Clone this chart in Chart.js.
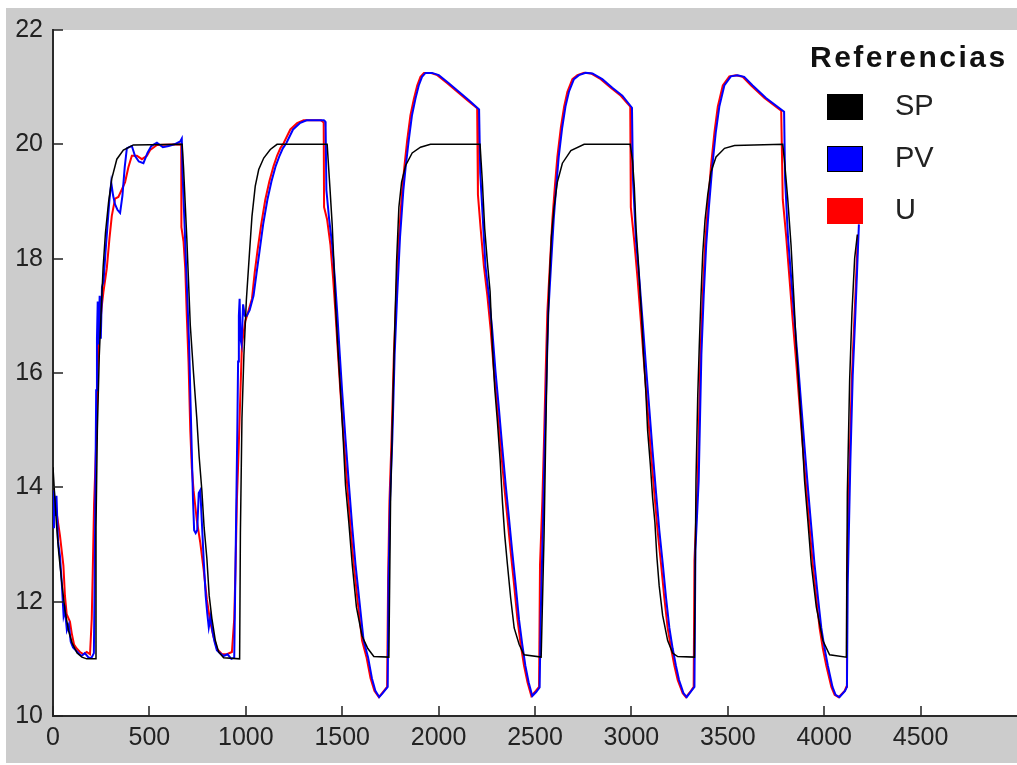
<!DOCTYPE html>
<html>
<head>
<meta charset="utf-8">
<title>Referencias</title>
<script src="https://cdn.jsdelivr.net/npm/chart.js@4.4.1/dist/chart.umd.min.js"></script>
<style>
  html, body { margin: 0; padding: 0; background: #fff; }
  #chart { display: block; }
</style>
</head>
<body>
<canvas id="chart" width="1017" height="765"></canvas>
<script>
// axis ticks
const xTicks = [0, 500, 1000, 1500, 2000, 2500, 3000, 3500, 4000, 4500];
const yTicks = [10, 12, 14, 16, 18, 20, 22];
const legendTitle = 'Referencias';

// SP: set point, [t, value]
const spData = [
  [0, 14.35], [8, 13.9], [18, 13.35], [30, 12.85], [45, 12.35], [62, 11.85], [80, 11.5], [100, 11.27], [125, 11.1], [150, 11.03], [175, 11.0], [218, 11.0],
  [223, 13.3], [230, 15.0], [240, 16.3], [250, 17.1], [260, 17.85], [272, 18.45], [288, 18.98], [305, 19.4], [331, 19.74], [365, 19.9], [417, 19.99], [670, 20.0],
  [677, 19.6], [694, 18.36], [712, 16.84], [729, 15.99], [746, 15.2], [758, 14.54], [772, 13.95], [784, 13.29], [798, 12.76], [810, 12.11], [824, 11.71], [842, 11.32], [859, 11.12], [885, 11.02], [968, 11.0],
  [972, 13.2], [980, 15.2], [990, 16.3], [1003, 17.28], [1020, 18.15], [1032, 18.74], [1049, 19.27], [1067, 19.56], [1093, 19.76], [1127, 19.91], [1162, 20.0], [1422, 20.0],
  [1436, 19.26], [1448, 18.6], [1456, 18.0], [1465, 17.2], [1477, 16.47], [1491, 15.7], [1505, 14.85], [1517, 14.04], [1534, 13.4], [1552, 12.65], [1574, 11.9], [1603, 11.4], [1633, 11.18], [1664, 11.04], [1742, 11.03],
  [1751, 13.82], [1768, 16.18], [1782, 17.94], [1794, 18.9], [1808, 19.34], [1829, 19.63], [1863, 19.85], [1906, 19.95], [1958, 20.0], [2215, 20.0],
  [2227, 19.34], [2239, 18.53], [2253, 17.94], [2267, 17.43], [2279, 16.47], [2291, 15.74], [2305, 15.15], [2319, 14.49], [2331, 13.75], [2343, 13.16], [2357, 12.65], [2374, 12.06], [2392, 11.54], [2418, 11.25], [2443, 11.07], [2532, 11.03],
  [2547, 13.16], [2555, 14.78], [2564, 16.47], [2573, 17.5], [2585, 18.38], [2599, 18.9], [2616, 19.34], [2642, 19.67], [2686, 19.89], [2755, 20.0], [2994, 20.0],
  [3006, 19.71], [3015, 19.26], [3024, 18.53], [3036, 17.94], [3046, 17.35], [3053, 16.99], [3063, 16.32], [3075, 15.66], [3084, 15.0], [3098, 14.41], [3110, 13.82], [3122, 13.38], [3132, 12.79], [3144, 12.28], [3162, 11.76], [3188, 11.32], [3214, 11.1], [3240, 11.04], [3327, 11.03],
  [3335, 14.12], [3344, 15.59], [3352, 16.47], [3361, 17.35], [3370, 18.09], [3382, 18.68], [3396, 19.12], [3413, 19.52], [3439, 19.78], [3483, 19.93], [3535, 19.98], [3785, 20.0],
  [3794, 19.71], [3811, 19.04], [3828, 18.24], [3842, 17.35], [3855, 16.47], [3872, 15.59], [3886, 14.85], [3898, 14.12], [3916, 13.38], [3933, 12.65], [3959, 11.91], [3993, 11.32], [4028, 11.07], [4115, 11.03],
  [4120, 13.9], [4132, 15.88], [4144, 17.06], [4158, 18.01], [4172, 18.42]
];

// PV: process variable
const pvData = [
  [0, 13.3], [5, 13.95], [12, 13.5], [18, 13.85], [26, 13.05], [36, 12.8], [46, 12.3], [55, 11.75], [62, 11.85], [72, 11.5], [82, 11.6], [92, 11.3], [104, 11.2], [118, 11.15], [132, 11.1], [148, 11.05], [165, 11.1], [185, 11.02], [200, 11.02], [212, 11.1],
  [216, 12.3], [220, 14.0], [224, 15.7], [228, 16.6], [232, 17.25], [237, 16.5], [242, 17.35], [248, 16.6], [254, 17.5], [262, 17.6], [272, 18.1], [282, 18.55], [292, 19.0], [302, 19.33], [312, 19.1], [322, 18.95], [335, 18.85], [348, 18.8], [360, 19.1], [372, 19.6], [383, 19.93], [395, 19.95], [409, 19.97], [425, 19.8], [445, 19.7], [469, 19.67], [490, 19.85], [510, 19.97], [539, 20.03], [570, 19.95], [600, 19.97], [630, 20.0], [660, 20.05], [668, 20.1],
  [672, 19.5], [680, 18.8], [690, 17.9], [698, 17.2], [706, 16.5], [714, 15.4], [720, 14.6], [726, 13.8], [732, 13.25], [740, 13.2], [748, 13.25], [756, 13.9], [764, 13.95], [772, 13.4], [782, 12.7], [792, 12.1], [800, 11.8], [808, 11.55], [818, 11.75], [826, 11.5], [838, 11.3], [850, 11.15], [866, 11.1], [885, 11.05], [905, 11.08], [925, 11.0], [940, 11.02],
  [944, 12.0], [950, 13.5], [956, 15.0], [960, 16.2], [964, 17.0], [968, 17.3], [972, 16.6], [978, 16.5], [986, 17.2], [995, 17.0], [1005, 17.0], [1020, 17.1], [1040, 17.35], [1056, 17.75], [1072, 18.15], [1090, 18.6], [1112, 19.03], [1133, 19.35], [1155, 19.62], [1175, 19.8], [1192, 19.93], [1210, 20.02], [1245, 20.26], [1280, 20.37], [1315, 20.42], [1405, 20.42], [1412, 20.4],
  [1414, 20.3], [1418, 19.2], [1432, 18.7], [1448, 18.24], [1462, 17.65], [1474, 17.06], [1486, 16.4], [1500, 15.66], [1517, 14.85], [1535, 14.04], [1552, 13.31], [1569, 12.65], [1590, 11.99], [1611, 11.32], [1634, 11.03], [1654, 10.66], [1672, 10.44], [1692, 10.33], [1710, 10.4], [1736, 10.51],
  [1740, 12.35], [1748, 13.75], [1760, 14.85], [1772, 16.32], [1785, 17.35], [1800, 18.38], [1817, 19.19], [1830, 19.63], [1845, 20.07], [1862, 20.51], [1880, 20.8], [1897, 21.03], [1914, 21.18], [1932, 21.25], [1966, 21.25], [2001, 21.21], [2053, 21.07], [2105, 20.92], [2157, 20.77], [2210, 20.61],
  [2216, 19.5], [2226, 18.9], [2243, 17.87], [2261, 17.35], [2278, 16.76], [2295, 16.03], [2313, 15.37], [2330, 14.71], [2348, 14.04], [2365, 13.46], [2382, 12.87], [2400, 12.28], [2417, 11.69], [2434, 11.25], [2450, 10.88], [2467, 10.59], [2486, 10.35], [2506, 10.42], [2524, 10.5],
  [2530, 11.8], [2542, 13.5], [2551, 14.85], [2560, 15.96], [2569, 17.06], [2584, 17.94], [2597, 18.68], [2610, 19.26], [2623, 19.78], [2641, 20.29], [2658, 20.66], [2676, 20.92], [2702, 21.14], [2728, 21.21], [2763, 21.25], [2798, 21.24], [2849, 21.14], [2901, 20.99], [2953, 20.85], [3003, 20.64],
  [3008, 19.4], [3024, 18.3], [3041, 17.65], [3058, 16.91], [3076, 16.1], [3093, 15.37], [3110, 14.63], [3128, 13.9], [3145, 13.24], [3163, 12.65], [3180, 12.06], [3197, 11.54], [3214, 11.18], [3231, 10.88], [3247, 10.63], [3270, 10.4], [3287, 10.33], [3311, 10.44], [3327, 10.51],
  [3332, 12.9], [3349, 14.12], [3363, 16.32], [3375, 17.35], [3388, 18.24], [3402, 18.9], [3420, 19.63], [3438, 20.22], [3456, 20.66], [3482, 21.03], [3516, 21.19], [3551, 21.21], [3585, 21.18], [3629, 21.03], [3698, 20.81], [3792, 20.57],
  [3797, 19.4], [3812, 18.38], [3829, 17.65], [3846, 16.91], [3864, 16.18], [3881, 15.44], [3898, 14.71], [3916, 13.97], [3933, 13.31], [3950, 12.65], [3968, 12.06], [3985, 11.54], [4002, 11.18], [4019, 10.88], [4043, 10.51], [4059, 10.37], [4079, 10.33], [4108, 10.44], [4118, 10.51],
  [4122, 12.3], [4136, 14.49], [4148, 15.96], [4162, 17.06], [4180, 18.6]
];

// U: controller output
const uData = [
  [0, 13.95], [10, 13.75], [19, 13.55], [36, 13.16], [54, 12.63], [62, 12.1], [71, 11.78], [88, 11.65], [97, 11.45], [109, 11.25], [123, 11.18], [140, 11.12], [158, 11.08], [175, 11.12], [192, 11.08],
  [201, 11.7], [206, 12.5], [213, 13.7], [223, 14.67], [230, 15.66], [235, 16.58], [244, 16.84], [253, 17.17], [262, 17.43], [279, 17.83], [293, 18.36], [305, 18.75], [322, 19.05], [339, 19.08], [357, 19.21], [374, 19.34], [391, 19.6], [409, 19.8], [435, 19.8], [461, 19.74], [487, 19.8], [504, 19.9], [539, 19.99], [660, 20.0], [665, 20.0],
  [666, 18.55], [677, 18.3], [686, 17.83], [694, 17.0], [703, 16.18], [712, 15.0], [720, 14.34], [729, 13.95], [746, 13.42], [764, 13.03], [781, 12.57], [798, 12.04], [816, 11.64], [833, 11.38], [850, 11.18], [876, 11.08], [902, 11.08], [928, 11.12],
  [940, 11.7], [947, 12.63], [954, 13.8], [963, 14.67], [972, 15.66], [980, 16.5], [997, 16.9], [1015, 17.1], [1032, 17.3], [1046, 17.75], [1061, 18.15], [1080, 18.6], [1101, 19.03], [1122, 19.35], [1144, 19.62], [1162, 19.8], [1179, 19.93], [1196, 20.02], [1231, 20.26], [1266, 20.37], [1300, 20.42], [1390, 20.42], [1398, 20.4],
  [1404, 20.38], [1406, 18.9], [1422, 18.68], [1439, 18.24], [1453, 17.65], [1465, 17.06], [1477, 16.4], [1491, 15.66], [1508, 14.85], [1526, 14.04], [1543, 13.31], [1560, 12.65], [1581, 11.99], [1603, 11.32], [1626, 11.03], [1647, 10.66], [1667, 10.44], [1690, 10.33], [1707, 10.4], [1733, 10.51],
  [1738, 12.35], [1745, 13.75], [1756, 14.85], [1768, 16.32], [1780, 17.35], [1794, 18.38], [1811, 19.19], [1823, 19.63], [1837, 20.07], [1854, 20.51], [1872, 20.8], [1889, 21.03], [1906, 21.18], [1924, 21.25], [1958, 21.25], [1993, 21.21], [2045, 21.07], [2097, 20.92], [2149, 20.77], [2200, 20.63],
  [2204, 19.12], [2218, 18.53], [2235, 17.87], [2253, 17.35], [2270, 16.76], [2287, 16.03], [2305, 15.37], [2322, 14.71], [2340, 14.04], [2357, 13.46], [2374, 12.87], [2392, 12.28], [2409, 11.69], [2426, 11.25], [2443, 10.88], [2461, 10.59], [2481, 10.35], [2504, 10.44], [2521, 10.51],
  [2526, 12.65], [2538, 13.75], [2547, 14.85], [2555, 15.96], [2564, 17.06], [2578, 17.94], [2590, 18.68], [2603, 19.26], [2616, 19.78], [2634, 20.29], [2651, 20.66], [2668, 20.92], [2694, 21.14], [2720, 21.21], [2755, 21.25], [2790, 21.24], [2841, 21.14], [2893, 20.99], [2945, 20.85], [2994, 20.66],
  [2997, 18.9], [3015, 18.3], [3032, 17.65], [3049, 16.91], [3067, 16.1], [3084, 15.37], [3101, 14.63], [3119, 13.9], [3136, 13.24], [3154, 12.65], [3171, 12.06], [3188, 11.54], [3206, 11.18], [3223, 10.88], [3240, 10.63], [3266, 10.4], [3283, 10.33], [3309, 10.44], [3323, 10.51],
  [3327, 12.72], [3344, 14.12], [3358, 16.32], [3370, 17.35], [3382, 18.24], [3396, 18.9], [3413, 19.63], [3431, 20.22], [3448, 20.66], [3474, 21.03], [3508, 21.19], [3543, 21.21], [3577, 21.18], [3621, 21.03], [3690, 20.81], [3777, 20.59],
  [3785, 19.04], [3803, 18.38], [3820, 17.65], [3837, 16.91], [3855, 16.18], [3872, 15.44], [3889, 14.71], [3907, 13.97], [3924, 13.31], [3941, 12.65], [3959, 12.06], [3976, 11.54], [3993, 11.18], [4011, 10.88], [4037, 10.51], [4054, 10.37], [4075, 10.33], [4106, 10.44], [4115, 10.51],
  [4118, 12.5], [4132, 14.49], [4144, 15.96], [4158, 17.06], [4175, 18.42]
];

const FONT = '"Liberation Sans", Arial, sans-serif';
const toPoints = arr => arr.map(p => ({ x: p[0], y: p[1] }));

// grey figure frame with white plotting area
const figureBackground = {
  id: 'figureBackground',
  beforeDraw(chart) {
    const { ctx, chartArea } = chart;
    ctx.save();
    ctx.fillStyle = '#ffffff';
    ctx.fillRect(0, 0, chart.width, chart.height);
    ctx.fillStyle = '#cccccc';
    ctx.fillRect(6, 8, chart.width - 6, chart.height - 10);
    ctx.fillStyle = '#ffffff';
    ctx.fillRect(chartArea.left, chartArea.top, chartArea.right - chartArea.left, chartArea.bottom - chartArea.top);
    ctx.restore();
  }
};

// tick marks pointing into the plot
const inwardTicks = {
  id: 'inwardTicks',
  afterDraw(chart) {
    const { ctx, chartArea, scales } = chart;
    ctx.save();
    ctx.strokeStyle = '#222';
    ctx.lineWidth = 1.5;
    ctx.beginPath();
    scales.x.ticks.forEach(t => {
      const px = Math.round(scales.x.getPixelForValue(t.value));
      ctx.moveTo(px, chartArea.bottom);
      ctx.lineTo(px, chartArea.bottom - 10);
    });
    scales.y.ticks.forEach(t => {
      const py = Math.round(scales.y.getPixelForValue(t.value));
      ctx.moveTo(chartArea.left, py);
      ctx.lineTo(chartArea.left + 10, py);
    });
    ctx.stroke();
    ctx.restore();
  }
};

// "Referencias" box in the top right corner
const referencesLegend = {
  id: 'referencesLegend',
  afterDraw(chart) {
    const { ctx } = chart;
    ctx.save();
    ctx.fillStyle = '#111';
    ctx.textAlign = 'left';
    ctx.textBaseline = 'alphabetic';
    ctx.font = 'bold 30px ' + FONT;
    ctx.letterSpacing = '2.5px';
    ctx.fillText(legendTitle, 810, 67);
    ctx.letterSpacing = '0px';
    ctx.font = '29px ' + FONT;
    ctx.textBaseline = 'middle';
    chart.data.datasets.forEach((ds, i) => {
      const top = 94 + i * 52;
      ctx.fillStyle = ds.borderColor;
      ctx.fillRect(827, top, 36, 26);
      ctx.strokeStyle = ds.legendEdge;
      ctx.lineWidth = 1;
      ctx.strokeRect(827.5, top + 0.5, 35, 25);
      ctx.fillStyle = '#222';
      ctx.fillText(ds.label, 895, top + 13);
    });
    ctx.restore();
  }
};

const tickFont = { family: FONT, size: 25 };

new Chart(document.getElementById('chart'), {
  type: 'line',
  data: {
    datasets: [
      { label: 'SP', data: toPoints(spData), borderColor: '#000000', legendEdge: '#000000', borderWidth: 1.5, order: 0 },
      { label: 'PV', data: toPoints(pvData), borderColor: '#0000ff', legendEdge: '#000000', borderWidth: 2, order: 1 },
      { label: 'U', data: toPoints(uData), borderColor: '#ff0000', legendEdge: '#ff0000', borderWidth: 2, order: 2 }
    ]
  },
  options: {
    responsive: false,
    animation: false,
    devicePixelRatio: 1,
    elements: {
      point: { radius: 0 },
      line: { tension: 0, fill: false }
    },
    layout: { padding: { top: 30, left: 0, right: 0, bottom: 0 } },
    plugins: {
      legend: { display: false },
      tooltip: { enabled: false }
    },
    scales: {
      x: {
        type: 'linear',
        min: 0,
        max: 5000,
        afterBuildTicks: s => { s.ticks = xTicks.map(v => ({ value: v })); },
        afterFit: s => { s.height = 49; },
        grid: { display: false, drawTicks: false },
        border: { display: true, color: '#2a2a2a', width: 2 },
        ticks: { color: '#222', font: tickFont, padding: 7, maxRotation: 0, autoSkip: false, callback: v => String(v) }
      },
      y: {
        type: 'linear',
        min: 10,
        max: 22,
        afterBuildTicks: s => { s.ticks = yTicks.map(v => ({ value: v })); },
        afterFit: s => { s.width = 53; },
        grid: { display: false, drawTicks: false },
        border: { display: true, color: '#2a2a2a', width: 2 },
        ticks: { color: '#222', font: tickFont, padding: 10, autoSkip: false, callback: v => String(v) }
      }
    }
  },
  plugins: [figureBackground, inwardTicks, referencesLegend]
});
</script>
</body>
</html>
